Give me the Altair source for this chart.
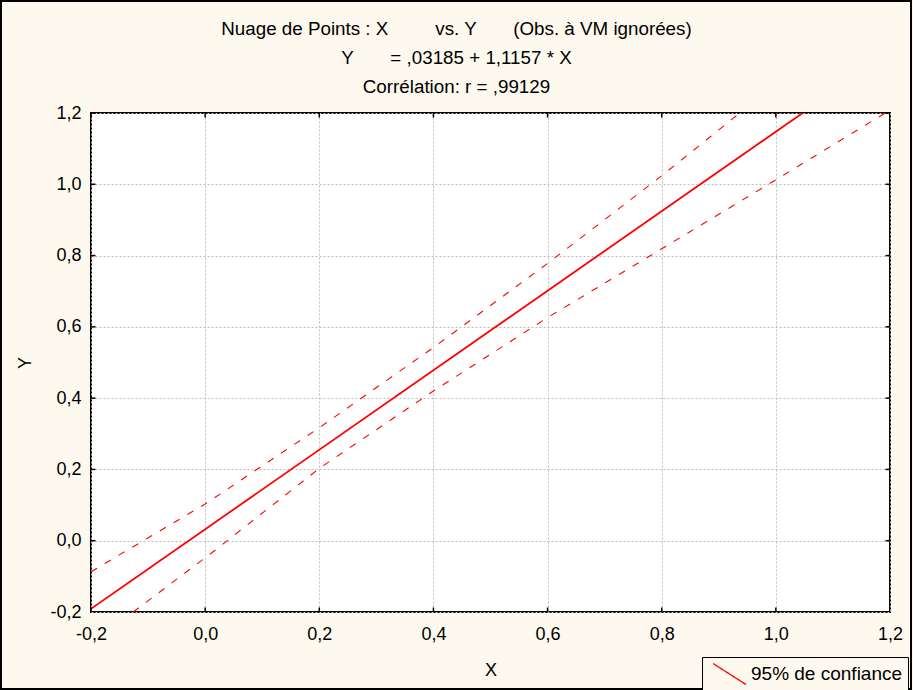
import altair as alt
import pandas as pd

# ---- data ----
tick_vals = [-0.2, 0.0, 0.2, 0.4, 0.6, 0.8, 1.0, 1.2]

reg_x = [-0.2, 1.047]
reg_y = [-0.191, 1.2]

upper_x = [-0.2, 0.0, 0.2, 0.4, 0.6, 0.8, 0.937]
upper_y = [-0.087, 0.103, 0.317, 0.542, 0.778, 1.024, 1.2]

lower_x = [-0.126, 0.014, 0.2, 0.4, 0.6, 0.8, 0.987, 1.2]
lower_y = [-0.2, -0.031, 0.203, 0.42, 0.626, 0.819, 1.0, 1.208]

title_lines = [
    "Nuage de Points : X\u00a0\u00a0\u00a0\u00a0\u00a0\u00a0\u00a0\u00a0\u00a0vs. Y\u00a0\u00a0\u00a0\u00a0\u00a0\u00a0\u00a0(Obs. à VM ignorées)",
    "Y\u00a0\u00a0\u00a0\u00a0\u00a0\u00a0\u00a0= ,03185 + 1,1157 * X",
    "Corrélation: r = ,99129",
]
legend_label = "95% de confiance"

FONT = "Liberation Sans"
BG = "#FDF9EE"
RED = "#FF0000"

reg_df = pd.DataFrame({"x": reg_x, "y": reg_y})
band_df = pd.concat([
    pd.DataFrame({"x": upper_x, "y": upper_y, "side": "upper"}),
    pd.DataFrame({"x": lower_x, "y": lower_y, "side": "lower"}),
])
band_df["band"] = legend_label
xt_df = pd.DataFrame({"x": tick_vals})
yt_df = pd.DataFrame({"y": tick_vals})

lab_expr = "(datum.value < 0 ? '-' : '') + replace(format(abs(datum.value), '.1f'), '.', ',')"

xscale = alt.Scale(domain=[-0.2, 1.2], nice=False, zero=False)
yscale = alt.Scale(domain=[-0.2, 1.2], nice=False, zero=False)

x_axis = alt.Axis(values=tick_vals, labelExpr=lab_expr, grid=True, ticks=False, tickSize=0,
                  domain=False, labelPadding=13, labelFontSize=18, labelFont=FONT,
                  labelColor="black", title="X", titleFont=FONT, titleFontSize=18,
                  titleFontWeight="normal", titleColor="black", titleY=58,
                  titleBaseline="middle", labelFlush=False, labelOverlap=False)
y_axis = alt.Axis(values=tick_vals, labelExpr=lab_expr, grid=True, ticks=False, tickSize=0,
                  domain=False, labelPadding=10, labelFontSize=18, labelFont=FONT,
                  labelColor="black", title="Y", titleFont=FONT, titleFontSize=18,
                  titleFontWeight="normal", titleColor="black", titleAngle=270,
                  titleX=-66, titleY=249.5, titleBaseline="middle", titleAlign="center",
                  labelFlush=False, labelOverlap=False)

X = alt.X("x:Q", scale=xscale, axis=x_axis, title="X")
Y = alt.Y("y:Q", scale=yscale, axis=y_axis, title="Y")

bands = alt.Chart(band_df).mark_line(strokeWidth=1.1, strokeDash=[7, 9], clip=True).encode(
    x=X, y=Y,
    detail="side:N",
    color=alt.Color("band:N", scale=alt.Scale(domain=[legend_label], range=[RED]),
                    legend=alt.Legend(title=None, orient="none", legendX=611, legendY=544,
                                      strokeColor="black", fillColor=BG, padding=5.5,
                                      cornerRadius=0, labelFont=FONT, labelFontSize=19,
                                      labelColor="black", labelOffset=10, symbolOffset=10.5,
                                      symbolType="M-1.57,-1L1.57,1", symbolSize=441,
                                      symbolStrokeWidth=1.3, symbolDash=[1, 0],
                                      symbolStrokeColor=RED)),
)

reg = alt.Chart(reg_df).mark_line(color=RED, strokeWidth=1.8, clip=True).encode(x=X, y=Y)

tick_style = dict(color="black", thickness=1.5, size=9, clip=True, opacity=1)
xt_bottom = alt.Chart(xt_df).mark_tick(orient="vertical", **tick_style).encode(x=X, y=alt.value(499))
xt_top = alt.Chart(xt_df).mark_tick(orient="vertical", **tick_style).encode(x=X, y=alt.value(0))
yt_left = alt.Chart(yt_df).mark_tick(orient="horizontal", **tick_style).encode(y=Y, x=alt.value(0))
yt_right = alt.Chart(yt_df).mark_tick(orient="horizontal", **tick_style).encode(y=Y, x=alt.value(799))

one = alt.Data(values=[{"a": 1}])
title_layers = [
    alt.Chart(one).mark_text(font=FONT, fontSize=18.8, color="black", align="center",
                             baseline="alphabetic").encode(
        x=alt.value(365.5), y=alt.value(yv), text=alt.value(txt))
    for txt, yv in zip(title_lines, [-78.5, -49.5, -20.5])
]

frame = alt.Chart(one).mark_rect(
    fill="transparent", stroke="black", strokeWidth=2
).encode(x=alt.value(-90), x2=alt.value(820), y=alt.value(-112), y2=alt.value(576))

chart = alt.layer(bands, reg, xt_bottom, xt_top, yt_left, yt_right, *title_layers, frame).properties(
    width=799, height=499,
    background=BG,
    padding={"left": 91, "top": 113, "right": 23, "bottom": 78},
    autosize=alt.AutoSizeParams(type="none"),
).configure_view(
    stroke="black", strokeWidth=2, fill="white"
).configure_axis(
    gridColor="#BDBDBD", gridDash=[2, 2], gridWidth=1, gridOpacity=1
)

chart.save("out.html", embed_options={"renderer": "svg", "actions": False})
